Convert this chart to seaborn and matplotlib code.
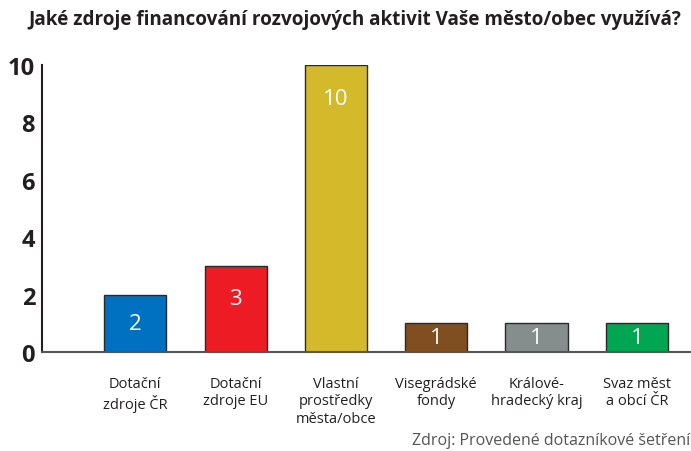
import pandas as pd
import seaborn as sns
import matplotlib.pyplot as plt

categories = ["Dotační\nzdroje ČR", "Dotační\nzdroje EU", "Vlastní\nprostředky\nměsta/obce",
              "Visegrádské\nfondy", "Králové-\nhradecký kraj", "Svaz měst\na obcí ČR"]
values = [2, 3, 10, 1, 1, 1]
colors = ["#0070C0", "#ED1C24", "#D4B92A", "#7F4F1F", "#858D8D", "#00A651"]

sns.set_style("white")
plt.rcParams['font.family'] = ['Open Sans', 'DejaVu Sans']

df = pd.DataFrame({"cat": categories, "val": values})

fig = plt.figure(figsize=(6.91, 4.52), dpi=100)
ax = fig.add_axes([42 / 691, 99 / 452, 649 / 691, 287 / 452])

sns.barplot(data=df, x="cat", y="val", hue="cat", palette=colors, legend=False,
            saturation=1, width=0.62, edgecolor="#2a2a2a", linewidth=1.0, ax=ax)

# value labels sit near the top of the taller bars
for i, v in enumerate(values):
    ax.text(i, max(v / 2, v - 1.15), str(v), ha="center", va="center",
            color="white", fontsize=16)

ax.set_xlim(-0.93, 5.54)
ax.set_ylim(0, 10)
ax.set_yticks([0, 2, 4, 6, 8, 10])
ax.set_xlabel("")
ax.set_ylabel("")

for s in ["top", "right"]:
    ax.spines[s].set_visible(False)
ax.spines["left"].set_color("#231F20")
ax.spines["left"].set_linewidth(1.5)
ax.spines["bottom"].set_color("#555555")
ax.spines["bottom"].set_linewidth(1.5)

ax.tick_params(axis="y", direction="in", length=12, width=1.5, color="#231F20",
               labelsize=17, pad=5)
for t in ax.get_yticklabels():
    t.set_fontweight("bold")
    t.set_color("#231F20")
ax.tick_params(axis="x", length=0, labelsize=10.5, pad=17, colors="#231F20")
for t in ax.get_xticklabels():
    t.set_linespacing(1.25)

fig.text(0.514, 0.955, "Jaké zdroje financování rozvojových aktivit Vaše město/obec využívá?",
         ha="center", va="center", fontsize=13.6, fontweight="bold", color="#231F20")
fig.text(0.999, 0.025, "Zdroj: Provedené dotazníkové šetření", ha="right", va="center",
         fontsize=11.5, color="#555555")

fig.savefig("out.png", dpi=100)
